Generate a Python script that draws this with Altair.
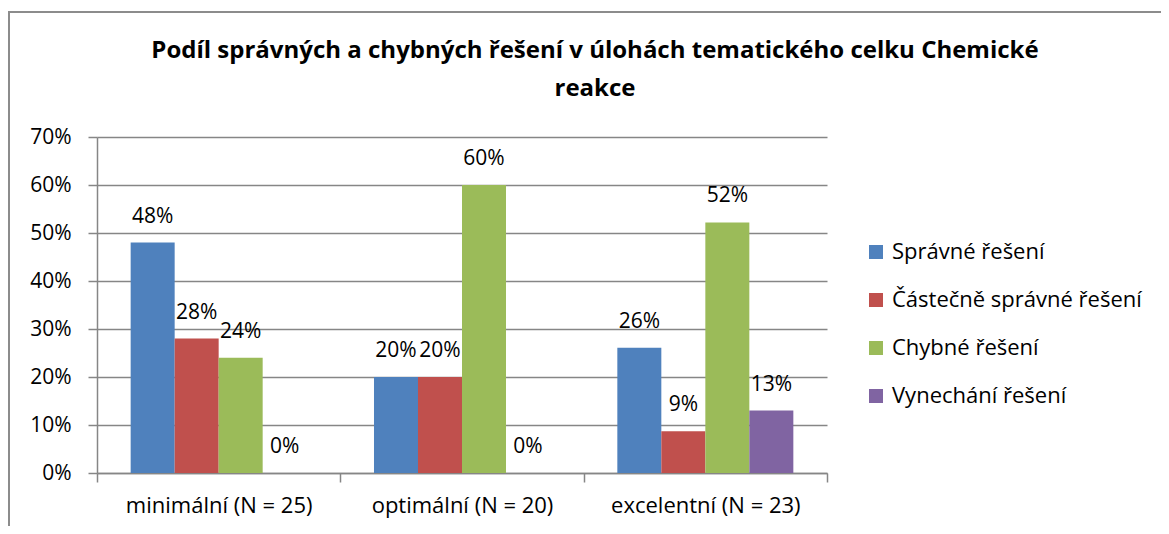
import altair as alt
import pandas as pd

title_lines = ["Podíl správných a chybných řešení v úlohách tematického celku Chemické", "reakce"]
groups = ["minimální (N = 25)", "optimální (N = 20)", "excelentní (N = 23)"]
series = ["Správné řešení", "Částečně správné řešení", "Chybné řešení", "Vynechání řešení"]
colors = ["#4F81BD", "#C0504D", "#9BBB59", "#8064A2"]

spravne = [0.48, 0.20, 0.261]
castecne = [0.28, 0.20, 0.087]
chybne = [0.24, 0.60, 0.522]
vynechani = [0.0, 0.0, 0.130]

rows = []
for s, vals in zip(series, [spravne, castecne, chybne, vynechani]):
    for g, v in zip(groups, vals):
        rows.append({"skupina": g, "typ": s, "podil": v})
df = pd.DataFrame(rows)

FONT = "Open Sans"

base = alt.Chart(df).encode(
    x=alt.X("skupina:N", sort=groups,
            scale=alt.Scale(paddingInner=0, paddingOuter=0),
            axis=alt.Axis(title=None, labelAngle=0, tickBand="extent", tickSize=9,
                          labelFontSize=22, labelPadding=13, labelColor="#000000",
                          labelLimit=0,
                          domainColor="#868686", tickColor="#868686",
                          domainWidth=1.5, tickWidth=1.5, grid=False)),
    xOffset=alt.XOffset("typ:N", sort=series,
                        scale=alt.Scale(paddingInner=0, paddingOuter=0.765)),
    y=alt.Y("podil:Q",
            scale=alt.Scale(domain=[0, 0.7], nice=False),
            axis=alt.Axis(title=None, format=".0%", values=[0, .1, .2, .3, .4, .5, .6, .7],
                          tickSize=9, labelFontSize=21, labelPadding=17,
                          labelColor="#000000", domainColor="#868686", tickColor="#868686",
                          gridColor="#868686", gridWidth=1.5, domainWidth=1.5, tickWidth=1.5)),
)

bars = base.mark_bar().encode(
    color=alt.Color("typ:N", sort=series,
                    scale=alt.Scale(domain=series, range=colors),
                    legend=alt.Legend(title=None, orient="none", legendX=768, legendY=104,
                                      symbolType="square", symbolSize=196,
                                      symbolStrokeWidth=0, labelLimit=0,
                                      labelFontSize=22, labelColor="#000000",
                                      rowPadding=26, labelOffset=5)),
)

labels = base.mark_text(fontSize=21, dy=-26, baseline="middle", color="#000000").encode(
    text=alt.Text("podil:Q", format=".0%")
)

one = pd.DataFrame({"a": [0]})
frame_left = alt.Chart(one).mark_rule(color="#8c8c8c", strokeWidth=2).encode(
    x=alt.value(-88), y=alt.value(-125), y2=alt.value(420))
frame_top = alt.Chart(one).mark_rule(color="#8c8c8c", strokeWidth=2).encode(
    x=alt.value(-89), x2=alt.value(1100), y=alt.value(-125))

title1 = alt.Chart(one).mark_text(fontSize=24, fontWeight="bold", color="#000000",
                                  align="center", baseline="alphabetic").encode(
    x=alt.value(498), y=alt.value(-79), text=alt.value(title_lines[0]))
title2 = alt.Chart(one).mark_text(fontSize=24, fontWeight="bold", color="#000000",
                                  align="center", baseline="alphabetic").encode(
    x=alt.value(498), y=alt.value(-41), text=alt.value(title_lines[1]))

chart = alt.layer(bars, labels, frame_left, frame_top, title1, title2).properties(
    width=730, height=336,
    padding={"left": 89, "top": 129, "right": 334, "bottom": 53},
    autosize=alt.AutoSizeParams(type="none"),
).configure(font=FONT).configure_view(stroke=None)

chart.save("out.html", embed_options={"renderer": "svg", "actions": False})
